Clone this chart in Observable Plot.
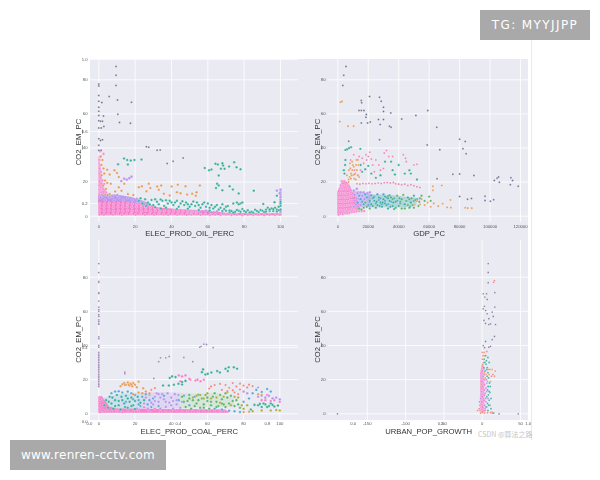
<!DOCTYPE html>
<html><head><meta charset="utf-8">
<script src="https://cdn.jsdelivr.net/npm/d3@7"></script>
<script src="https://cdn.jsdelivr.net/npm/@observablehq/plot@0.6"></script>
<style>
html,body{margin:0;padding:0;background:#fff}
#page{position:relative;width:600px;height:480px;overflow:hidden;font-family:"Liberation Sans",Arial,sans-serif}
#chart{position:absolute;left:0;top:0;width:600px;height:480px;filter:blur(0.45px)}
#bg{position:absolute;left:90px;top:59px;width:438px;height:361px;background:#eaeaf2}
#edge{position:absolute;left:531px;top:40px;width:1px;height:400px;background:#eaeaea}
#chart svg{position:absolute;overflow:visible;background:transparent}
.badge{position:absolute;background:#a9a9a9;color:#fff;font-family:"DejaVu Sans",sans-serif;display:flex;align-items:center;justify-content:center;height:30px}
#tg{left:480px;top:10px;width:110px;font-size:12px;letter-spacing:1.4px}
#www{left:10px;top:440px;width:156px;font-size:12px;letter-spacing:.25px}
#mark{position:absolute;left:478px;top:429px;font:7px "Noto Sans CJK SC","Liberation Sans",sans-serif;color:#c4c4c4;white-space:nowrap}
</style></head><body>
<div id="page"><div id="chart"><div id="bg"></div><div id="edge"></div></div>
<div id="mark">CSDN @算法之路</div>
<div id="tg" class="badge">TG: MYYJJPP</div>
<div id="www" class="badge">www.renren-cctv.com</div></div>
<script>
const pinkC="#f47cc9",purpleC="#b795ec",blueC="#5aa5d6",tealC="#36ad9a",greenC="#58b368",oliveC="#a9a838",orangeC="#e69a56",redC="#ee8079",greyC="#6d6a8f";

// ---- ELEC_PROD_OIL_PERC vs CO2_EM_PC
const oilPinkBand=[[0,.3,9],[10,.3,8.5],[20,.3,7.5],[28,.3,6.5],[33,.3,4.8],[45,.3,3.8],[60,.3,3],[70,.3,1.8],[85,.3,1.4],[100,.3,1.4]];
const oilPurpleBand=[[0,7,12.5],[10,7,12.5],[18,6.5,11],[24,6,9],[30,4,6]];
const oilSpikeBand=[[0,8,36],[1,8,30],[2.5,8,18],[5,8,13],[8,8,11]];
const oilGrey=[[9.5,87.8],[9.5,82.7],[9.5,76.6],[0,77.6],[0,76.4],[0,70.8],[0,67.4],[1.7,66.7],[5.7,70.2],[10.3,68.2],[18,66.9],[0,63.9],[0,61.6],[0,59],[0,56],[0,51.8],[10.5,59.8],[2.6,58.7],[11.4,54.9],[17.4,54.5],[0.9,55.7],[2,55.7],[2.8,52.6],[1.3,51.8],[0,45.4],[0.9,44.4],[2,44.8],[0,41.6],[0,38.7],[1.3,38.7],[26.2,40.7],[27.5,40.5],[32.1,38.7],[33.8,38.9],[46.4,34.2],[40.9,32.3],[37.6,30.9]];
const oilTeal=[[13.9,33.8],[15.6,33],[17.6,32.6],[19.6,33],[23.5,33.2],[10.6,30.5],[16,30.3],[58.3,28.3],[60.7,27],[62,27.4],[64.2,30.7],[65.5,30.3],[68,31],[68.4,29.7],[67.2,27.8],[69.2,27.8],[71.7,29.1],[74.5,31.7],[75.8,28.7],[78,27.6],[66,23.9],[65.1,19],[66,18],[64.5,16.6],[68,15.2],[72,17.6],[73.8,15.6],[77,13.3],[85.3,15],[90.5,7.2],[96.7,8.2],[98,12],[22,9],[24,7.5],[25.5,10],[27,8],[29,9.5],[30,6.5],[32,8.5],[33,7],[35,9],[36,6],[38,7.5],[39,9],[41,6.5],[42,8],[44,5.5],[45,7.5],[47,6.5],[48,8],[50,5.5],[51,7],[53,6],[54,8],[56,5],[57,7],[59,5.5],[60,7.5],[62,6.5],[63,4.5],[65,6.5],[66,4],[68,3],[70,3.2],[72,2.5],[74,7.5],[76,8],[78,7.5],[80,3],[82,3.5],[84,2.6],[86,3.8],[88,2.4],[90,3.2],[92,3.8],[94,3],[95,4.5],[96,3],[97,5],[98,4],[99,3.5],[100,6],[100,7.5],[100,4],[100,8.5],[72,3.4],[75,2.6],[77,3.2],[79,4.2],[83,2.2],[87,3],[91,2.5],[93,5],[68,7],[70,5.5],[31,5.2],[37,5],[43,4.2],[49,4.4],[55,3.6],[61,3.4],[26,6],[34,4.5],[23,10.5],[28,7],[31,10],[34,9.8],[37,9.4],[40,8],[43,9],[46,8.7],[49,7],[52,8.6],[55,6.6],[58,8],[61,5],[64,5.6],[67,5],[69,4.2],[71,6],[73,3],[74,2.2],[76,3.6],[78,2.6],[81,2.4],[85,2.2],[89,3.6],[92,2.6],[94,4],[96,4.2],[98,2.8],[99,5.5],[79,8],[77,7]];
const oilOrange=[[4.6,27.2],[6,24.5],[8.6,27],[10,25.4],[11,23],[1,35],[2,33],[1.5,30],[2.6,28],[3,25],[1.6,24],[3.4,21],[4.6,19.5],[6.6,19],[2.4,18],[4,16],[23.7,17.6],[22,17],[27.5,19],[28.4,16.6],[26.2,14.7],[32.1,17.4],[34.3,18],[33,15.5],[35.8,13.1],[39,12.1],[40.1,17.4],[43.5,18.4],[47.7,17.6],[55.6,18],[43,14],[45,13.5],[48.6,12.7],[51.4,13.1],[53.8,14],[53.4,12],[16,13],[19,12.4],[6,13],[9,14.5],[3.6,12.5],[12.5,15],[14,19],[11,17]];
const oilPurple=[[14,22],[15.4,21.4],[16.8,22.3],[18,23.2],[12.4,20.6],[1,11],[3.5,9.5],[6,11.2],[8.5,9.3],[11,11],[13.5,9.5],[16,10.8],[18.5,9.4],[21,10.2],[23.4,8.4],[2.2,12],[4.8,12.3],[7.4,11.8],[10.2,12.4],[25,7],[28,6.5],[50,2.4],[53,3],[56,2.2],[59,3.2],[62,2.2],[65,2.8],[68,1.8],[72,1.8],[100,15.5],[100,14],[100,12.5],[100,11],[100,9.6],[99.6,13.5],[98,15],[100,2],[100,1],[100,3]];
const oilPink=[[0.4,1],[2.8,.8],[5.2,1.2],[7.8,.9],[10.2,1.3],[12.7,.8],[15.2,1.1],[17.8,1.3],[20.3,.9],[22.9,1.2],[25.4,.8],[27.9,1.2],[30.5,.9],[33,1.3],[35.6,1],[38.1,.8],[40.6,1.2],[43.2,.9],[45.8,1.1],[48.3,.8],[50.9,1],[53.5,1.2],[56,.8],[58.6,1.1],[61.2,.7],[64,.9],[67,.7],[70,1],[73,.7],[76,.9],[79,.6],[82,.8],[85,.7],[88,.9],[91,.6],[94,.8],[97,.7],[99.6,.9],[.6,3.2],[3,3],[5.6,3.4],[8.1,2.9],[10.7,3.3],[13.2,3],[15.8,3.4],[18.3,3],[20.8,3.3],[23.4,2.9],[25.9,3.3],[28.4,2.9],[31,3.2],[33.5,2.8],[36,3.1],[38.6,2.9],[41.2,3.2],[43.8,2.8],[46.3,3],[48.8,2.7],[51.4,2.6],[54,2.8],[.4,5.4],[2.9,5.2],[5.5,5.6],[8,5.1],[10.6,5.5],[13.1,5.2],[15.6,5.6],[18.2,5.2],[20.7,5.5],[23.3,5.1],[25.8,5.3],[28.3,5],[30.8,4.9],[33.3,4.6],[.6,7.4],[3.1,7.2],[5.7,7.6],[8.2,7.1],[10.8,7.5],[13.3,7.2],[15.9,7.4],[18.4,7.1],[20.9,7.2],[23.2,6.8],[.3,13],[.5,15.5],[1.2,14],[.3,18],[1,17],[.4,20.5],[.9,23],[.4,25],[1.2,26],[.4,28],[.8,30],[.4,33],[.9,35],[2.2,16],[3,19],[4,14],[2,21],[2.6,36.5],[.6,38]];

// ---- GDP_PC vs CO2_EM_PC
const gdpPinkBand=[[0,.5,14],[1500,.6,17],[3000,.8,20],[6000,1.4,20],[8000,2,18],[10000,2.4,14],[13000,3,9],[15000,3,6]];
const gdpPurpleBand=[[9000,5,14],[14000,5,14.5],[18000,5,13.5],[22000,5,13]];
const gdpTealBand=[[20000,5,12.5],[30000,5,12.5],[38000,5,12],[45000,5,11],[52000,6,10.5]];
const gdpGrey=[[5400,87.8],[3900,82.7],[3300,76.6],[15400,67.8],[15700,66.5],[20900,70.2],[27400,69.8],[28500,67.4],[30000,63.9],[30000,61.4],[13900,62],[15500,62],[17200,62],[18700,59.6],[18500,58],[15400,54.7],[19600,54.7],[21300,55.3],[26700,56.7],[27800,53.8],[30000,56.7],[33900,52.8],[35000,52.2],[34800,60.6],[42000,57],[51300,59],[59100,62],[65000,52.2],[27400,44.8],[7200,44],[58700,41.8],[67000,39],[80000,45.2],[83700,43.8],[82200,39.5],[84300,36.6],[89400,23.9],[80000,24.8],[75600,24.6],[65200,22],[102800,20.9],[104600,22.3],[105600,23],[106100,19.9],[113700,22.5],[114800,20.9],[113300,18.4],[118500,17.6],[96700,11.7],[96700,9.2],[100200,8.8],[102400,9.6],[80000,11.5],[85200,10],[87800,10.4]];
const gdpOrange=[[1700,66.9],[2800,67.3],[1300,55.5],[6700,52.8],[10400,52.8],[83700,4.9],[85400,4.7],[88000,4.7],[74000,9.5],[71800,5.2],[74300,5],[68900,7.3],[66000,5.9],[68300,18],[62500,17.5],[62500,15.2],[7000,20],[7800,23],[8700,25],[9500,27],[10500,29],[8000,31],[9000,24],[10800,22],[11500,25],[12500,27],[13500,30],[12300,33],[7300,27],[14000,23],[8600,22],[55000,10],[57000,6.5],[59000,8],[61000,5.5],[63000,7.5],[54000,7],[50000,6.5],[52000,8.8],[6000,24],[7200,21.5],[9900,30],[10800,24.5],[11800,21.5],[13000,24],[12000,30],[13200,33],[8200,28],[9400,32]];
const gdpTeal=[[5000,38.9],[6100,39.3],[8700,40.5],[7400,40],[14800,39.5],[5000,33],[4800,30],[4000,27],[4400,25],[15000,30],[18000,27.5],[16000,26],[20000,29.5],[22000,25],[25000,22.5],[35000,32],[36000,27],[40000,30],[37500,24.5],[44000,25],[47000,27],[48000,25],[52000,21.5],[28000,24],[31000,32],[22000,7],[24000,9],[26000,6.5],[28000,8],[30000,10],[32000,6.5],[34000,9],[36000,6],[23500,11],[27000,11],[31000,11.5],[35000,11],[38000,8.5],[40000,6],[42000,10],[44000,7],[46000,11],[48000,8],[50000,12],[52000,10],[25000,5],[29000,5.5],[33000,4.5],[37000,4.2],[21000,9],[25500,8.5],[29500,8],[33000,10.5],[36500,8],[41000,8.5],[45000,9],[47500,5.5],[23000,6],[27500,6],[31000,7.5],[34500,5.5]];
const gdpGreen=[[39000,12],[41000,7.5],[43000,12.5],[45000,9],[47000,5],[49000,6.5],[44000,4.5],[51000,9.5],[53000,6],[55000,12],[57000,9],[60000,11.5],[61000,9],[38000,5],[42000,4.5],[19000,5.5],[21000,4.5],[17000,5],[14000,4.5],[15500,4],[18000,8],[36000,10],[33000,11.8],[40500,10.5],[46000,6.5],[48500,10.5],[50000,5],[53500,8.5]];
const gdpBlue=[[13000,8],[15000,10],[17000,7],[19000,11],[21000,8.5],[23000,10.5],[25000,7.5],[27000,9.5],[29000,7],[31000,9],[33000,7],[35000,8.5],[37000,10.5],[39000,9],[14000,12],[18000,12.8],[22000,12.2],[26000,12.8],[30000,12.8],[34000,12.2],[47000,10],[50000,9],[54000,10.5],[16000,8.5],[20000,6.5],[24000,11.5],[28000,10.5],[32000,11]];
const gdpPurple=[[10500,5.5],[12000,7],[13500,5.5],[15500,8],[11000,9],[12500,10.5],[14000,10],[16000,12],[17500,10],[11000,12.5],[13000,13.5],[15000,14],[17000,14],[19500,13.5],[10500,15],[12500,16],[21000,14],[15000,6.5]];
const gdpPink=[[500,.8],[1800,1.4],[3300,1.2],[4800,1.8],[6300,1.6],[7800,2],[9300,2.4],[10800,2.6],[12300,2.8],[14000,3],[15700,3],[17300,3],[500,3.5],[2100,3.7],[3700,3.4],[5200,3.9],[6700,3.6],[8200,4],[9800,4.5],[11400,4.4],[500,6],[2100,6.2],[3600,5.9],[5100,6.4],[6700,6.1],[8200,6.6],[9700,6.8],[500,8.5],[2000,8.7],[3500,8.3],[5000,8.8],[6500,8.5],[8000,9],[9500,9.2],[800,11],[2300,11.2],[3800,10.8],[5300,11.2],[6800,11],[8300,11.6],[9800,12],[1000,13.5],[2500,13.6],[4000,13.2],[5500,13.6],[7000,13.4],[8600,14],[1300,16],[2800,16],[4300,15.8],[5800,16.2],[7300,16],[2000,18.2],[3500,18],[5000,18.4],[6500,18.1],[2700,20.5],[4200,20.6]];
const gdpPinkLine=[[12600,19],[14500,18.8],[16500,19.2],[18500,19],[20500,19.3],[22500,19],[24500,19.2],[26500,19.5],[28500,19.2],[30500,19.6],[32500,19.8],[34500,19.5],[36500,19.7],[38000,19],[40000,18.8],[42000,18.4],[44000,18.8],[46000,18],[48000,18.4],[50000,17.8],[52000,17.2],[53900,16.8],[10000,24],[11000,27],[13500,24],[15000,27],[17000,31],[16000,34],[14000,35],[18500,36],[20000,35],[21000,37.5],[19000,33],[23000,30],[25000,33],[27000,30],[28000,27],[30000,28],[30500,37],[32000,38.5],[33500,35],[36000,35],[43000,36],[44500,34],[45000,32],[50000,30],[52000,30.5],[22000,33.5],[24000,26],[8500,33],[10500,36]];

// ---- ELEC_PROD_COAL_PERC vs CO2_EM_PC
const coalPinkBandA=[[0,.3,10],[2,.3,10],[4,.3,7],[6,.3,4],[10,.3,2.8],[70,.3,2.2],[72,.3,1]];
const coalBlueBand=[[3,2.5,9],[10,2.5,11],[20,2.5,12],[25,3,12]];
const coalPurpleBand=[[25,3,12],[35,3,12.5],[45,3,12]];
const coalGreenBand=[[45,3,12],[55,3.5,11.5],[65,3.5,12],[75,4,9]];
const coalGrey=[[0,88],[0,82.7],[0,77.5],[0,77],[0,71],[0,70.5],[0,66],[0,62.5],[0,61],[0,60],[0,58],[0,57],[0,55],[0,54],[0,53],[0,52.5],[0,45],[0,44],[0,40],[0,39],[0,36],[0,35],[0,34],[0,33],[0,32],[0,31],[0,30],[0,29],[0,28],[0,27],[0,26],[0,25],[0,24],[0,23],[0,22],[0,21],[0,20],[0,19],[0,18],[0,17],[0,16],[14.4,24.4],[14.4,23.4],[30.4,20.7],[33.1,30.5],[34.1,32.8],[37,32.8],[38.9,33.6],[47,33],[51.9,30.5],[55.8,39],[56.5,39.5],[58,40.8],[59.5,40.6],[63.2,38.7],[88,15.5]];
const coalTeal=[[57.6,26],[57,24.4],[58.9,23],[60.2,23.4],[62.2,24.2],[65.4,25],[66.9,24.2],[70,26.4],[71.3,25],[71.8,27.3],[74.6,27.3],[76.4,26.4],[39.2,21],[40.5,21.9],[42.4,21.5],[35.5,16.6],[38.7,16.6],[41.5,17],[44,17.6],[46,17.2],[46,18.6],[47.9,19.2],[3,5],[4,8],[5,3.5],[6,10],[7,6],[8,3],[9,8],[10,11],[11,5],[12,2.5],[13,8],[14,6],[15,10.5],[16,3.5],[17,7],[18,9.5],[19,5],[20,2.8],[84,2.5],[88,5],[90,4],[92,5.5],[94,4.5],[96,5.2],[91,6],[97,4.3],[86,5.2],[99,4.8],[5.5,7],[7.5,9.5],[9,4.5],[11,7.5],[12.5,10],[14.5,4],[16,9],[18,4.5],[20,7.5],[21.5,10],[23,6.5],[25,8],[89,5.8],[93,4],[95,6]];
const coalBlue=[[7,12],[9,13],[11,13.2],[13,12.5],[16,13],[18,12],[20,11],[22,8],[23,4.5],[24,10],[26,11.5],[28,8],[29,4],[64,3],[68,2.5],[72,1.8],[75,1.5],[78,1],[44.2,8],[47,10.5],[50,5],[53,10],[80,7],[83,9],[85,12],[87,14],[93,14.5],[90,12.8],[95,13],[15,7],[19,8.5],[22,5.5],[27,5.5],[30,9],[33,4.5],[36,10.5]];
const coalPurple=[[21,3],[25,6],[27,3],[30,5.5],[31,10],[32,12],[33,7],[34,3],[35,11.5],[36,8.5],[37,4],[38,12],[39,6.5],[40,9.5],[41,3],[42,11.5],[43,5.5],[44,11],[45,3.5],[46,7],[82,12],[80,13],[88,10],[90,10.5],[92,9.5],[94,10.5],[96,9],[98,9.5],[100,8.5],[26,9.5],[28,11],[29,6.5],[31,7.5],[34,9.5],[37,7],[40,5],[43,8],[24,12],[33,11.5],[41,7.5]];
const coalGreen=[[46,10],[48,4],[49,7.5],[50,11],[51,3],[52,8],[54,6],[55,11.2],[56,3.5],[57,9],[58,5.5],[59,11],[60,7.5],[61,3],[62,5],[63,10],[64,12],[65,7],[66,4.5],[67,11],[68,8.5],[69,5.5],[70,12],[71,9.5],[72,6],[73,10.5],[74,7.5],[75,4.5],[76,8],[77,5.5],[78,3.5],[47,7],[50,9],[53,4.5],[55,8],[58,3.5],[60,9.5],[62,7],[65,4],[68,6],[70,4]];
const coalOlive=[[52,9.5],[54,10.5],[56,11],[58,9],[60,12],[62,9],[65,9.5],[67,6.5],[69,10],[71,12.5],[73,5],[75,10],[77,9.5],[79,5],[80,3],[82,5],[85,1.5],[90,2],[95,2],[98,2.2],[100,2]];
const coalOrange=[[12,16.2],[13,17.3],[14,18],[15,17],[16,18.4],[17,16.5],[17.5,17.8],[18.5,16.2],[19,18],[20,17],[21,15.5],[22,18.8],[19,11.5],[22,12.5],[24,12],[26,13],[28,12],[24.5,15],[80,1],[83,1.2],[88,11.5],[90,11],[14.5,16.8],[16.5,17],[18,17.2]];
const coalRed=[[67,17.5],[70,16.8],[72,15.2],[74,18],[76,16],[78,14.2],[78,17.6],[80,16.5],[82,15.4],[83,17],[85,16.2],[71,13.2],[74,13.8],[62,16],[64,16.8],[61,14.8],[29,14],[31,15],[77,11.5],[75,12.5],[68,14]];
const coalPink=[[44.2,22.5],[46,21.9],[47.9,22.5],[45.1,19.1],[47.9,19.5],[50.6,19.9],[53.4,19.5],[56.2,19.1],[58,19.9],[50,20.5],[54.5,20],[92,8],[93,11],[95,7.5],[97,8],[100,7],[90,8],[22,1.5],[25,3.8],[28,1.2],[31,3],[34,1.2],[37,2],[40,1.4],[43,2.2],[46,1.2],[49,1.8],[52,1.2],[55,1.6],[58,1.2],[61,1.4],[64,1.2],[67,1.6],[70,1.2],[10,1.6],[13,1],[16,2],[19,1.2],[.6,1],[.8,3.5],[.5,6],[.8,8.5],[2.5,2],[2.8,5],[2.4,8],[4.6,1.2],[4.8,3.5],[7,1.4]];

// ---- URBAN_POP_GROWTH vs CO2_EM_PC
const urbanPinkBand=[[-2,.5,24],[0,.5,28],[2,.5,28],[3.5,.5,22]];
const urbanGrey=[[7.8,88],[7.8,82.8],[7.8,76.8],[1.3,70.3],[5.7,70.3],[16.5,71],[3.5,68.4],[6.5,67],[16.5,62.5],[1.3,61.5],[4.4,60.5],[3,63],[6.5,58.6],[13,59.6],[14.4,57],[8.7,55.7],[2.2,54.7],[4.4,53],[10.9,52.7],[17.4,52.3],[8.7,52.3],[16,45.3],[13,43.4],[4.4,42.4],[1.3,40],[3,38.7],[8.7,39],[10.9,39.5],[-189,0],[22,0],[47,0]];
const urbanRed=[[15,77],[16,78],[0,36],[1,34],[2.5,36],[6,36.5],[.3,32],[14,23],[17,25],[16,22],[10,26],[12,22],[-4,3],[-6,2],[-2,.5],[0,.8],[3,.5],[7,.6],[11,.8],[-3,5],[13,1]];
const urbanTeal=[[2.5,32],[3.5,30],[5,29],[6.5,27],[2.2,27],[3.8,25],[5.5,31],[7.5,33],[9,30],[7.5,24],[8.5,21],[9.5,18],[10.5,16],[7,14],[8,11],[10,12.5],[11.5,9],[9,8],[7,6],[10,5],[11.5,3],[13.5,.5],[15,.5],[7.5,2],[4.5,34],[6,26],[6.5,22],[8,16],[9,13],[6,10],[8.5,5],[5,4]];
const urbanOrange=[[3,24],[5,23],[7,19],[8,26],[13,26],[11,19],[-1,17],[4,21],[9,23],[.5,29],[3,34],[13,.6],[-3,2]];
const urbanPurple=[[4,20],[6,18],[7,16],[4,12],[6,13],[7.5,9],[5,7],[3,5],[6,4],[-2,9],[-1,13],[-3.5,7],[1,22],[2.5,24],[4,3],[5,15],[4.5,9],[5.5,20]];
const urbanPink=[[.6,1.5],[3.5,2],[.2,4],[3,5],[-.5,7],[2.5,8],[0,10],[3,11],[-.4,13],[2.6,14],[.2,16],[3,17],[-.4,19],[2.6,20],[.2,22],[2.8,23],[.3,25],[2.2,26.5],[.5,28],[2,30]];

const xTicks100=[0,20,40,60,80,100], gdpTicks=[0,20000,40000,60000,80000,100000,120000], urbanTicks=[-150,-100,-50,0,50], yTicks=[0,20,40,60,80];
const yTitle="CO2_EM_PC";

const S=(data,color,r=1.25)=>({data,color,r});
const B=(data,color,opacity=1)=>({data,color,opacity});
const panels=[
 {label:"ELEC_PROD_OIL_PERC",box:[70,50,230,190],frame:[90,298,59,222],px:[98.3,280],py:[215.7,79.3],xd:[0,100],xt:xTicks100,yLabelX:77.7,labelY:233,pad:[3,3],
  under:{px:[89,309],py:[239,59],xt:[],yt:[1,.6,.2]},
  bands:[B(oilSpikeBand,pinkC,.75),B(oilPurpleBand,purpleC,.95),B(oilPinkBand,pinkC)],
  series:[S(oilPurple,purpleC,1.4),S(oilPink,"#f590d2",1.4),S(oilOrange,orangeC),S(oilTeal,tealC,1.25),S(oilGrey,greyC,1)]},
 {label:"GDP_PC",box:[300,50,240,190],frame:[328,528,59,222],px:[337.3,520],py:[215.7,79.3],xd:[0,120000],xt:gdpTicks,yLabelX:317,labelY:233,pad:[3,3],
  under:{px:[328,528],py:[239,59],xt:[],yt:[]},
  bands:[B(gdpTealBand,"#7fc4c8",.55),B(gdpPurpleBand,purpleC,.6),B(gdpPinkBand,pinkC,.95)],
  series:[S(gdpPink,"#f590d2",1.4),S(gdpPinkLine,"#ea82b0",1.05),S(gdpPurple,purpleC,1.4),S(gdpBlue,blueC,1.35),S(gdpTeal,tealC,1.2),S(gdpGreen,greenC,1.2),S(gdpOrange,orangeC,1.1),S(gdpGrey,greyC,1)]},
 {label:"ELEC_PROD_COAL_PERC",box:[70,240,230,200],frame:[90,298,240,420],px:[98.3,279.3],py:[413.3,276.7],xd:[0,100],xt:xTicks100,yLabelX:77.7,labelY:430.7,pad:[2,3],
  under:{px:[89,311.5],py:[421,236],xt:[0,.4,.8],yt:[0,.4]},
  bands:[B(coalBlueBand,"#9fcbe6",.35),B(coalPurpleBand,purpleC,.22),B(coalGreenBand,"#a6d8a2",.28),B(coalPinkBandA,pinkC,.95)],
  series:[S(coalPink,pinkC,1.3),S(coalPurple,purpleC,1.35),S(coalBlue,blueC,1.3),S(coalTeal,tealC,1.3),S(coalGreen,greenC,1.3),S(coalOlive,oliveC,1.25),S(coalOrange,orangeC,1.25),S(coalRed,redC,1.15),S(coalGrey,"#8f6fa8",.9)]},
 {label:"URBAN_POP_GROWTH",box:[300,240,240,200],frame:[328,528,240,420],px:[336.2,520],py:[413.3,276.7],xd:[-190,50],xt:urbanTicks,yLabelX:317,labelY:430.7,pad:[2,3],
  under:{px:[352.7,527.7],py:[421,236],xt:[0,.5,1],yt:[]},
  bands:[B(urbanPinkBand,pinkC,.7)],
  series:[S(urbanPink,pinkC,1.2),S(urbanPurple,purpleC,1.1),S(urbanOrange,orangeC,.95),S(urbanTeal,tealC,1),S(urbanRed,redC,.95),S(urbanGrey,greyC,.85)]}
];
const chart=document.getElementById("chart");
const fontTick=4.2, fontTitle=7.7, tickColor="#555", svgStyle={background:"transparent",fontFamily:"Liberation Sans, Arial, sans-serif"};
function place(svg,[l,t]){svg.style.left=l+"px";svg.style.top=t+"px";chart.appendChild(svg);}
function rel(p){
  const [l,t,w,h]=p.box,[fl,fr,ft,fb]=p.frame;
  return {width:w,height:h,marginLeft:fl-l,marginRight:l+w-fr,marginTop:ft-t,marginBottom:t+h-fb};
}
for(const p of panels){
  const [l,t]=p.box, m=rel(p);
  const sx=a=>a.map(v=>v-l), sy=a=>a.map(v=>v-t);
  const fmt1=d3.format(".1f");
  place(Plot.plot({...m,style:svgStyle,
    x:{domain:[0,1],range:sx(p.under.px),axis:null},y:{domain:[0,1],range:sy(p.under.py),axis:null},
    marks:[
      Plot.gridY({ticks:p.under.yt.filter(v=>v>0),stroke:"#fff",strokeOpacity:.7}),
      Plot.axisX({ticks:p.under.xt,tickFormat:fmt1,tickSize:0,tickPadding:p.pad[0],label:null,fontSize:fontTick,color:tickColor}),
      Plot.axisY({ticks:p.under.yt,tickFormat:fmt1,tickSize:0,tickPadding:p.pad[1],label:null,fontSize:fontTick,color:tickColor})
    ]}),[l,t]);
  place(Plot.plot({...m,style:svgStyle,
    x:{domain:p.xd,range:sx(p.px),axis:null},y:{domain:[0,80],range:sy(p.py),axis:null},
    marks:[
      Plot.gridX({ticks:p.xt,stroke:"#fff",strokeOpacity:.8}),
      Plot.gridY({ticks:yTicks,stroke:"#fff",strokeOpacity:.8}),
      Plot.axisX({ticks:p.xt,tickFormat:d=>String(d),tickSize:0,tickPadding:p.pad[0],label:null,fontSize:fontTick,color:tickColor}),
      Plot.axisY({ticks:yTicks,tickFormat:d=>String(d),tickSize:0,tickPadding:p.pad[1],label:null,fontSize:fontTick,color:tickColor}),
      ...p.bands.map(b=>Plot.areaY(b.data,{x:d=>d[0],y1:d=>d[1],y2:d=>d[2],fill:b.color,fillOpacity:b.opacity})),
      ...p.series.map(s=>Plot.dot(s.data,{x:d=>d[0],y:d=>d[1],r:s.r,fill:s.color,stroke:"#fff",strokeWidth:.25}))
    ]}),[l,t]);
  // axis titles, placed in the panel's own pixel space
  place(Plot.plot({...m,style:svgStyle,
    x:{type:"identity",axis:null},y:{type:"identity",axis:null},
    marks:[
      Plot.text([p.label],{x:()=>(p.px[0]+p.px[1])/2-l,y:()=>p.labelY-t,text:d=>d,fontSize:fontTitle,fill:"#333",textAnchor:"middle"}),
      Plot.text([yTitle],{x:()=>p.yLabelX-l,y:()=>(p.py[0]+p.py[1])/2-t-6,text:d=>d,fontSize:fontTitle,fill:"#333",rotate:-90,textAnchor:"middle"})
    ]}),[l,t]);
}
</script></body></html>
